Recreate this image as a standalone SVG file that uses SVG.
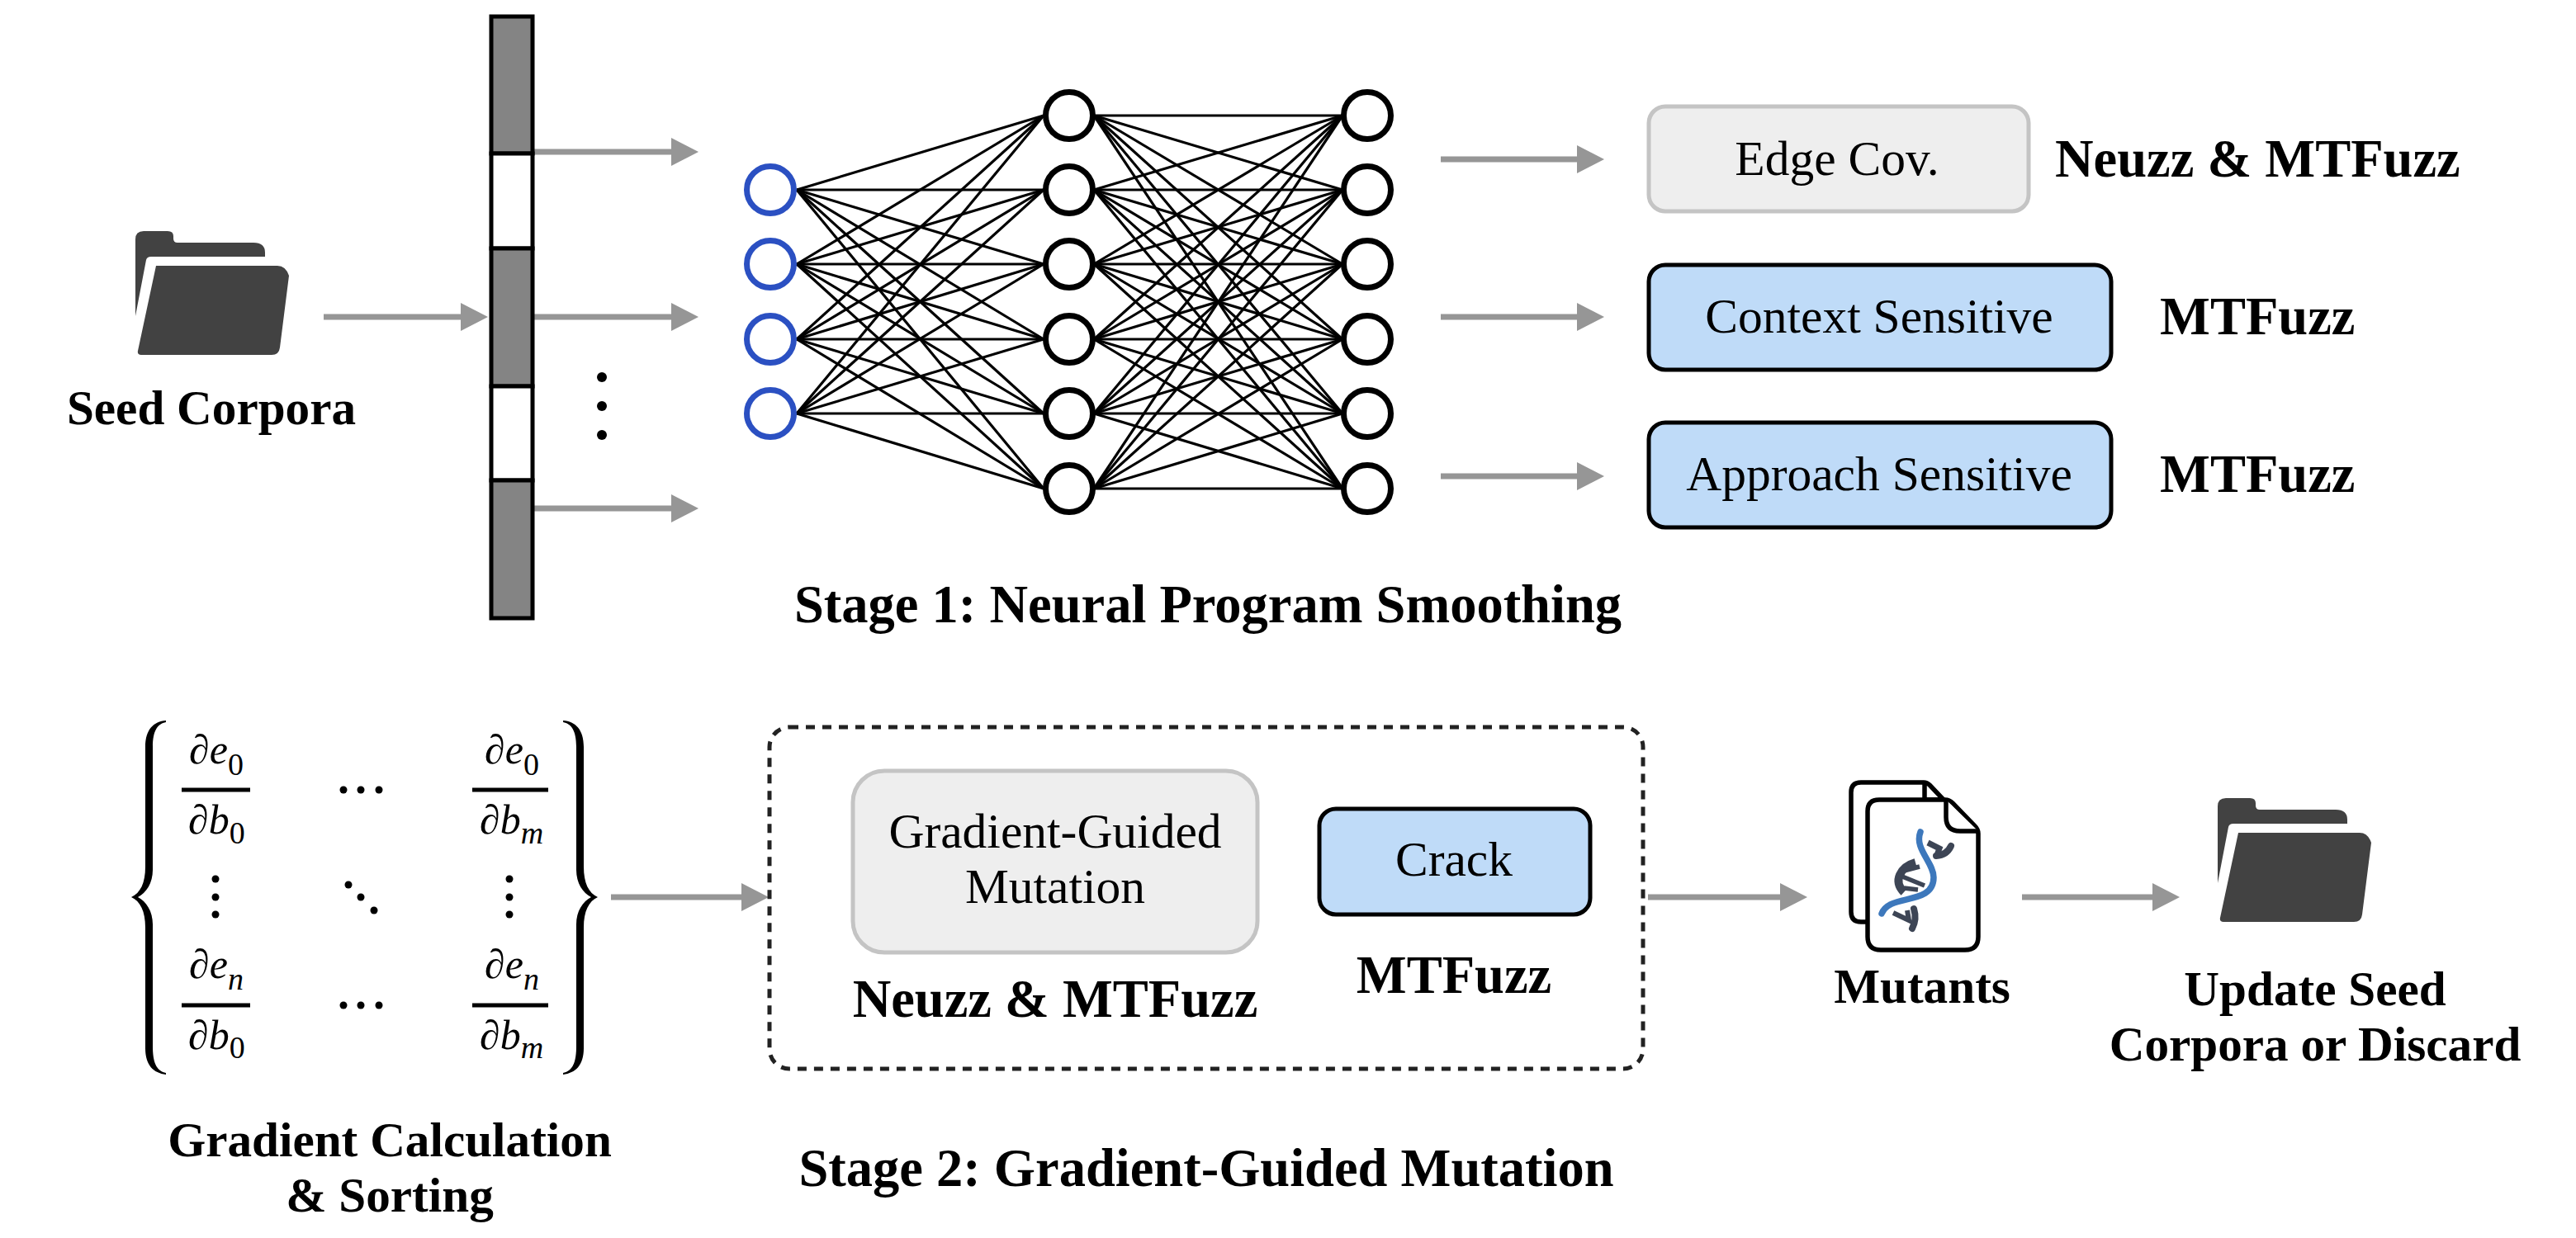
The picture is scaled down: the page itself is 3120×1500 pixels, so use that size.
<svg xmlns="http://www.w3.org/2000/svg" width="3120" height="1500" viewBox="0 0 3120 1500">
<style>
text{font-family:"Liberation Serif","Times New Roman",serif;fill:#000}
.b{font-weight:700;font-size:59.2px}
.t{font-weight:700;font-size:64.5px}
.m{text-anchor:middle}
.r{font-size:59.5px;text-anchor:middle}
.i{font-style:italic;font-size:50px}
.s{font-size:38px;font-style:normal}
.si{font-size:38px;font-style:italic}
.arrow{stroke:#969696;stroke-width:7;fill:none;marker-end:url(#head)}
.net line{stroke:#000;stroke-width:3.2}
.in{fill:#fff;stroke:#2b50c2;stroke-width:7}
.hid{fill:#fff;stroke:#000;stroke-width:7}
.grey{fill:#eee;stroke:#c4c4c4;stroke-width:5}
.blue{fill:#bfdbf8;stroke:#000;stroke-width:5}
.cell{stroke:#000;stroke-width:5}
.frac{stroke:#000;stroke-width:5}
.folder{fill:#424242}
.doc{fill:#fff;stroke:#000;stroke-width:5.5;stroke-linejoin:round}
</style>
<defs>
<marker id="head" markerUnits="userSpaceOnUse" markerWidth="34" markerHeight="36" refX="23" refY="17" orient="auto"><path d="M0 0L33 17L0 34Z" fill="#969696"/></marker>
<g id="folder-icon" class="folder">
<path d="M0 103L0 10Q0 0 10 0L39 0Q46 0 46 6L46 9Q46 14 51 14L143 14Q157 14 157 26L157 31L19 31Q14 31 13 35Z"/>
<path d="M25 42L172 42Q182 42 186 54L175 141Q174 150 165 150L7 150Q2 150 3 145Z"/>
</g>
</defs>
<rect width="3120" height="1500" fill="#fff"/>

<g id="connectors">
<line class="arrow" x1="392" y1="384" x2="581" y2="384"/>
<line class="arrow" x1="647" y1="184" x2="836" y2="184"/>
<line class="arrow" x1="647" y1="384" x2="836" y2="384"/>
<line class="arrow" x1="647" y1="616" x2="836" y2="616"/>
<line class="arrow" x1="1745" y1="193" x2="1933" y2="193"/>
<line class="arrow" x1="1745" y1="384" x2="1933" y2="384"/>
<line class="arrow" x1="1745" y1="577" x2="1933" y2="577"/>
<line class="arrow" x1="740" y1="1087" x2="921" y2="1087"/>
<line class="arrow" x1="1996" y1="1087" x2="2179" y2="1087"/>
<line class="arrow" x1="2449" y1="1087" x2="2630" y2="1087"/>
<g class="net">
<line x1="965" y1="230" x2="1264" y2="140"/><line x1="965" y1="230" x2="1264" y2="230"/><line x1="965" y1="230" x2="1264" y2="320"/><line x1="965" y1="230" x2="1264" y2="411"/><line x1="965" y1="230" x2="1264" y2="501"/><line x1="965" y1="230" x2="1264" y2="592"/>
<line x1="965" y1="320" x2="1264" y2="140"/><line x1="965" y1="320" x2="1264" y2="230"/><line x1="965" y1="320" x2="1264" y2="320"/><line x1="965" y1="320" x2="1264" y2="411"/><line x1="965" y1="320" x2="1264" y2="501"/><line x1="965" y1="320" x2="1264" y2="592"/>
<line x1="965" y1="411" x2="1264" y2="140"/><line x1="965" y1="411" x2="1264" y2="230"/><line x1="965" y1="411" x2="1264" y2="320"/><line x1="965" y1="411" x2="1264" y2="411"/><line x1="965" y1="411" x2="1264" y2="501"/><line x1="965" y1="411" x2="1264" y2="592"/>
<line x1="965" y1="501" x2="1264" y2="140"/><line x1="965" y1="501" x2="1264" y2="230"/><line x1="965" y1="501" x2="1264" y2="320"/><line x1="965" y1="501" x2="1264" y2="411"/><line x1="965" y1="501" x2="1264" y2="501"/><line x1="965" y1="501" x2="1264" y2="592"/>
<line x1="1325" y1="140" x2="1626" y2="140"/><line x1="1325" y1="140" x2="1626" y2="230"/><line x1="1325" y1="140" x2="1626" y2="320"/><line x1="1325" y1="140" x2="1626" y2="411"/><line x1="1325" y1="140" x2="1626" y2="501"/><line x1="1325" y1="140" x2="1626" y2="592"/>
<line x1="1325" y1="230" x2="1626" y2="140"/><line x1="1325" y1="230" x2="1626" y2="230"/><line x1="1325" y1="230" x2="1626" y2="320"/><line x1="1325" y1="230" x2="1626" y2="411"/><line x1="1325" y1="230" x2="1626" y2="501"/><line x1="1325" y1="230" x2="1626" y2="592"/>
<line x1="1325" y1="320" x2="1626" y2="140"/><line x1="1325" y1="320" x2="1626" y2="230"/><line x1="1325" y1="320" x2="1626" y2="320"/><line x1="1325" y1="320" x2="1626" y2="411"/><line x1="1325" y1="320" x2="1626" y2="501"/><line x1="1325" y1="320" x2="1626" y2="592"/>
<line x1="1325" y1="411" x2="1626" y2="140"/><line x1="1325" y1="411" x2="1626" y2="230"/><line x1="1325" y1="411" x2="1626" y2="320"/><line x1="1325" y1="411" x2="1626" y2="411"/><line x1="1325" y1="411" x2="1626" y2="501"/><line x1="1325" y1="411" x2="1626" y2="592"/>
<line x1="1325" y1="501" x2="1626" y2="140"/><line x1="1325" y1="501" x2="1626" y2="230"/><line x1="1325" y1="501" x2="1626" y2="320"/><line x1="1325" y1="501" x2="1626" y2="411"/><line x1="1325" y1="501" x2="1626" y2="501"/><line x1="1325" y1="501" x2="1626" y2="592"/>
<line x1="1325" y1="592" x2="1626" y2="140"/><line x1="1325" y1="592" x2="1626" y2="230"/><line x1="1325" y1="592" x2="1626" y2="320"/><line x1="1325" y1="592" x2="1626" y2="411"/><line x1="1325" y1="592" x2="1626" y2="501"/><line x1="1325" y1="592" x2="1626" y2="592"/>
</g>
</g>

<g id="seed-corpora">
<use href="#folder-icon" x="164" y="280"/>
<text class="b m" x="256" y="514">Seed Corpora</text>
</g>

<g id="input-vector">
<rect class="cell" x="595" y="20" width="50" height="166" fill="#848484"/>
<rect class="cell" x="595" y="186" width="50" height="115" fill="#fff"/>
<rect class="cell" x="595" y="301" width="50" height="167" fill="#848484"/>
<rect class="cell" x="595" y="468" width="50" height="114" fill="#fff"/>
<rect class="cell" x="595" y="582" width="50" height="167" fill="#848484"/>
<circle cx="729" cy="457" r="6"/><circle cx="729" cy="492" r="6"/><circle cx="729" cy="527" r="6"/>
</g>

<g id="network-inputs">
<circle class="in" cx="933" cy="230" r="28.5"/><circle class="in" cx="933" cy="320" r="28.5"/><circle class="in" cx="933" cy="411" r="28.5"/><circle class="in" cx="933" cy="501" r="28.5"/>
</g>
<g id="network-hidden">
<circle class="hid" cx="1295" cy="140" r="28.5"/><circle class="hid" cx="1295" cy="230" r="28.5"/><circle class="hid" cx="1295" cy="320" r="28.5"/><circle class="hid" cx="1295" cy="411" r="28.5"/><circle class="hid" cx="1295" cy="501" r="28.5"/><circle class="hid" cx="1295" cy="592" r="28.5"/>
</g>
<g id="network-outputs">
<circle class="hid" cx="1656" cy="140" r="28.5"/><circle class="hid" cx="1656" cy="230" r="28.5"/><circle class="hid" cx="1656" cy="320" r="28.5"/><circle class="hid" cx="1656" cy="411" r="28.5"/><circle class="hid" cx="1656" cy="501" r="28.5"/><circle class="hid" cx="1656" cy="592" r="28.5"/>
</g>

<g id="edge-cov">
<rect class="grey" x="1997" y="129" width="460" height="127" rx="20"/>
<text class="r" x="2225" y="212">Edge Cov.</text>
<text class="t" x="2489" y="214">Neuzz &amp; MTFuzz</text>
</g>
<g id="context-sensitive">
<rect class="blue" x="1997" y="321" width="560" height="127" rx="20"/>
<text class="r" x="2276" y="403">Context Sensitive</text>
<text class="t" x="2616" y="405">MTFuzz</text>
</g>
<g id="approach-sensitive">
<rect class="blue" x="1997" y="512" width="560" height="127" rx="20"/>
<text class="r" x="2276" y="594">Approach Sensitive</text>
<text class="t" x="2616" y="596">MTFuzz</text>
</g>
<g id="stage-1"><text class="t m" x="1463" y="754">Stage 1: Neural Program Smoothing</text></g>

<g id="gradient-matrix">
<path id="left-brace" d="M201 873C186 874 176 884 176 905L176 1050C176 1070 170 1082 159 1087C170 1092 176 1104 176 1124L176 1270C176 1291 186 1300 201 1302L201 1300C191 1298 185 1290 185 1268L185 1120C185 1104 177 1092 167 1087C177 1082 185 1070 185 1054L185 905C185 885 191 877 201 875Z"/>
<path id="right-brace" transform="matrix(-1 0 0 1 883 0)" d="M201 873C186 874 176 884 176 905L176 1050C176 1070 170 1082 159 1087C170 1092 176 1104 176 1124L176 1270C176 1291 186 1300 201 1302L201 1300C191 1298 185 1290 185 1268L185 1120C185 1104 177 1092 167 1087C177 1082 185 1070 185 1054L185 905C185 885 191 877 201 875Z"/>
<line class="frac" x1="220" y1="957" x2="303" y2="957"/><line class="frac" x1="572" y1="957" x2="664" y2="957"/>
<line class="frac" x1="220" y1="1218" x2="303" y2="1218"/><line class="frac" x1="572" y1="1218" x2="664" y2="1218"/>
<text class="i" x="229" y="925">∂e<tspan class="s" dy="14">0</tspan></text>
<text class="i" x="228" y="1010">∂b<tspan class="s" dy="12">0</tspan></text>
<text class="i" x="587" y="925">∂e<tspan class="s" dy="14">0</tspan></text>
<text class="i" x="581" y="1010">∂b<tspan class="si" dy="12">m</tspan></text>
<text class="i" x="229" y="1185">∂e<tspan class="si" dy="14">n</tspan></text>
<text class="i" x="228" y="1271">∂b<tspan class="s" dy="11">0</tspan></text>
<text class="i" x="587" y="1185">∂e<tspan class="si" dy="14">n</tspan></text>
<text class="i" x="581" y="1271">∂b<tspan class="si" dy="11">m</tspan></text>
<circle cx="416" cy="957" r="4.5"/><circle cx="437" cy="957" r="4.5"/><circle cx="459" cy="957" r="4.5"/>
<circle cx="416" cy="1218" r="4.5"/><circle cx="437" cy="1218" r="4.5"/><circle cx="459" cy="1218" r="4.5"/>
<circle cx="261" cy="1065" r="4.5"/><circle cx="261" cy="1087" r="4.5"/><circle cx="261" cy="1108" r="4.5"/>
<circle cx="617" cy="1065" r="4.5"/><circle cx="617" cy="1087" r="4.5"/><circle cx="617" cy="1108" r="4.5"/>
<circle cx="422" cy="1072" r="4.5"/><circle cx="437" cy="1087" r="4.5"/><circle cx="453" cy="1103" r="4.5"/>
<text class="b m" x="472" y="1401">Gradient Calculation</text>
<text class="b m" x="472" y="1468">&amp; Sorting</text>
</g>

<g id="mutation-stage">
<rect x="932" y="881" width="1058" height="414" rx="24" fill="none" stroke="#222" stroke-width="5" stroke-dasharray="11 9"/>
</g>
<g id="gradient-guided">
<rect class="grey" x="1033" y="934" width="490" height="220" rx="38"/>
<text class="r" x="1278" y="1027">Gradient-Guided</text>
<text class="r" x="1278" y="1094">Mutation</text>
<text class="t m" x="1278" y="1232">Neuzz &amp; MTFuzz</text>
</g>
<g id="crack">
<rect class="blue" x="1598" y="980" width="328" height="128" rx="20"/>
<text class="r" x="1761" y="1061">Crack</text>
<text class="t m" x="1761" y="1203">MTFuzz</text>
</g>
<g id="stage-2"><text class="t m" x="1461" y="1437">Stage 2: Gradient-Guided Mutation</text></g>

<g id="mutants">
<path class="doc" d="M2262 1117L2254 1117Q2242 1117 2242 1105L2242 960Q2242 948 2254 948L2330 948Q2334 948 2337 951L2354 969L2331 969L2331 948"/>
<path class="doc" d="M2276 969L2356 969Q2361 969 2365 973L2392 1001Q2396 1005 2396 1010L2396 1135Q2396 1151 2380 1151L2278 1151Q2262 1151 2262 1135L2262 983Q2262 969 2276 969Z"/>
<path class="doc" d="M2357 969L2357 990Q2357 1007 2374 1007L2396 1007" fill="none"/>
<g fill="none" stroke="#3d4555" stroke-linecap="round">
<path d="M2363 1025Q2358 1036 2345 1037" stroke-width="8"/>
<path d="M2335 1021L2349 1028L2346 1036" stroke-width="7" stroke-linecap="butt"/>
<path d="M2320 1045C2302 1050 2292 1068 2306 1081" stroke-width="10" stroke-linecap="butt"/>
<path d="M2306 1055L2325 1050M2304 1062L2331 1073M2306 1076L2323 1078" stroke-width="5.5" stroke-linecap="butt"/>
<path d="M2318 1101Q2322 1114 2316 1125" stroke-width="8"/>
<path d="M2293 1106L2312 1115L2310 1103" stroke-width="6" stroke-linecap="butt"/>
</g>
<path d="M2326 1008C2318 1028 2342 1045 2342 1063C2342 1098 2288 1082 2279 1107" fill="none" stroke="#3d78bc" stroke-width="7.5" stroke-linecap="round"/>
<text class="b m" x="2328" y="1215">Mutants</text>
</g>

<g id="updated-corpora">
<use href="#folder-icon" x="2686" y="967"/>
<text class="b m" x="2804" y="1218">Update Seed</text>
<text class="b m" x="2804" y="1285">Corpora or Discard</text>
</g>
</svg>
